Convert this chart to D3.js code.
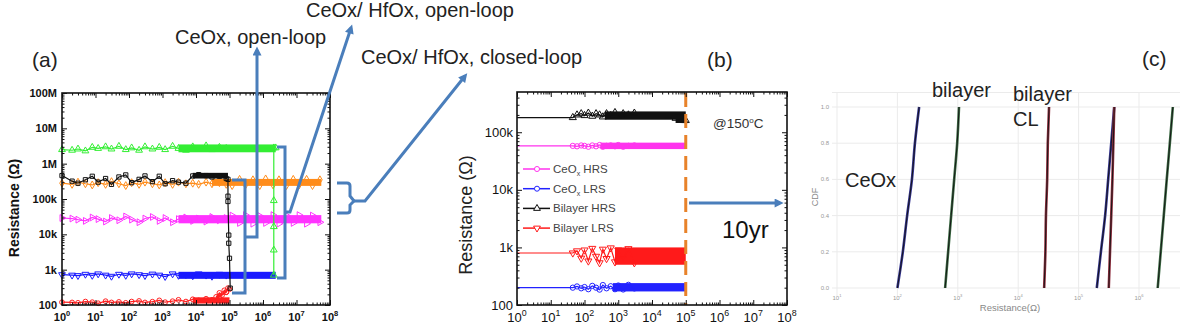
<!DOCTYPE html>
<html>
<head>
<meta charset="utf-8">
<script src="https://cdn.jsdelivr.net/npm/d3@7"></script>
<style>
  body { margin: 0; background: #fff; }
  text { font-family: "Liberation Sans", Arial, Helvetica, sans-serif; }
</style>
</head>
<body>
<svg id="svg1" width="1183" height="324"></svg>
<script>
const svg = d3.select('#svg1');
const BLUE = '#4a7ebb';

// ---------- (a) endurance data ----------
const aCycles = [1, 2, 3, 5, 8, 12, 20, 30, 50, 80, 120, 200, 300, 500, 800, 1200, 2000, 3000, 5000, 8000, 12000, 20000, 30000, 50000, 80000];
const aGreen = [2.5e6, 2.4e6, 2.6e6, 2.3e6, 2.9e6, 2.7e6, 3.0e6, 2.6e6, 3.1e6, 2.5e6, 2.8e6, 2.4e6, 3.0e6, 2.6e6, 2.9e6, 2.5e6, 3.1e6, 2.7e6, 2.4e6, 3.0e6, 2.6e6, 3.2e6, 2.5e6, 2.9e6, 2.7e6];
const aOrange = [2.8e5, 2.6e5, 3.0e5, 2.7e5, 2.5e5, 2.9e5, 2.6e5, 3.1e5, 2.7e5, 2.4e5, 2.9e5, 2.6e5, 3.0e5, 2.7e5, 2.5e5, 2.9e5, 2.6e5, 3.0e5, 2.7e5, 2.8e5, 2.6e5, 3.0e5, 2.7e5, 2.9e5, 2.6e5];
const aBlack = [4.6e5, 3.2e5, 2.8e5, 3.5e5, 4.4e5, 3.0e5, 3.8e5, 2.6e5, 4.2e5, 4.8e5, 2.9e5, 3.6e5, 4.5e5, 3.1e5, 4.4e5, 2.7e5, 3.3e5, 3.0e5, 2.8e5, 4.5e5, 4.9e5, 4.6e5, 4.2e5, 4.4e5, 3.8e5];
const aMagenta = [2.9e4, 2.8e4, 2.6e4, 2.4e4, 3.0e4, 2.7e4, 2.3e4, 2.9e4, 2.5e4, 3.2e4, 2.6e4, 2.2e4, 2.8e4, 3.1e4, 2.4e4, 2.9e4, 2.2e4, 2.7e4, 3.0e4, 2.4e4, 2.8e4, 2.3e4, 3.1e4, 2.5e4, 2.9e4];
const aBlue = [720, 700, 680, 740, 690, 760, 700, 650, 740, 690, 760, 720, 680, 750, 700, 640, 760, 690, 730, 670, 760, 700, 650, 740, 700];
const aRed = [120, 118, 115, 125, 120, 112, 128, 118, 122, 115, 125, 130, 118, 124, 135, 120, 128, 140, 125, 145, 135, 150, 140, 170, 230];
// late cycles, inside the dense bands
const aLateCycles = [1.2e5, 2e5, 3e5, 5e5, 8e5, 1.2e6, 2e6, 3e6, 5e6, 8e6, 1.2e7, 2e7, 3e7, 5e7];
const aOrangeLate = [2.4e5, 3.6e5, 2.5e5, 3.5e5, 2.4e5, 3.7e5, 2.5e5, 3.5e5, 2.4e5, 3.6e5, 2.5e5, 3.6e5, 2.4e5, 3.5e5];
const aMagentaLate = [3.4e4, 2.1e4, 3.5e4, 2.0e4, 3.3e4, 2.1e4, 3.5e4, 2.0e4, 3.4e4, 2.1e4, 3.5e4, 2.0e4, 3.4e4, 2.2e4];
// dense parts [from cycle, to cycle, low, high]
const aGreenBand = [3000, 2.4e6, 2.1e6, 3.5e6];
const aOrangeBand = [3e4, 5.5e7, 2.35e5, 3.7e5];
const aBlackBand = [8000, 9e4, 3.8e5, 5.5e5];
const aMagentaBand = [3000, 5.5e7, 2.05e4, 3.5e4];
const aBlueBand = [3000, 2.4e6, 550, 870];
const aRedBand = [8000, 1e5, 110, 165];
// failures / tails
const aGreenTail = [[2.4e6, 2.8e6], [2.1e6, 2.8e6], [2.1e6, 9e4], [2.1e6, 1.65e4], [2.1e6, 3.6e3], [2.1e6, 700]];
const aBlackTail = [[9e4, 3.6e5], [9e4, 1.2e5], [9e4, 8.5e4], [9.5e4, 9.5e3], [9.5e4, 5.6e3], [1e5, 2.1e3], [1.05e5, 300]];
const aRedTail = [[4e4, 170], [5e4, 220], [6e4, 190], [7e4, 260], [8e4, 230], [9e4, 300], [1e5, 280]];
const aYTicks = [1e2, 1e3, 1e4, 1e5, 1e6, 1e7, 1e8];
const aYLabels = ['100', '1k', '10k', '100k', '1M', '10M', '100M'];
const aXExps = [0, 1, 2, 3, 4, 5, 6, 7, 8];

// ---------- (b) retention data ----------
const bTime = [1, 45, 60, 80, 100, 130, 170, 220, 280, 350, 450, 600, 800, 1000, 1400, 2000, 3000];
const bBiHRS = [1.8e5, 1.8e5, 2.0e5, 2.1e5, 1.95e5, 2.15e5, 1.9e5, 2.1e5, 2.0e5, 1.85e5, 2.1e5, 1.95e5, 2.2e5, 1.9e5, 2.1e5, 2.0e5, 2.15e5];
const bCeHRS = [5.8e4, 5.8e4, 5.7e4, 5.9e4, 5.8e4, 5.6e4, 5.9e4, 5.7e4, 6.0e4, 5.6e4, 5.8e4, 5.9e4, 5.7e4, 6.0e4, 5.6e4, 5.8e4, 5.9e4];
const bBiLRS = [800, 800, 870, 650, 900, 580, 960, 700, 540, 930, 640, 980, 560, 900, 620, 950, 540];
const bCeLRS = [200, 200, 210, 195, 205, 188, 215, 200, 185, 222, 195, 212, 188, 218, 186, 224, 194];
const bBiHRSEnd = [[3e4, 1.9e5], [5e4, 1.75e5], [7e4, 1.65e5], [9e4, 1.6e5], [1e5, 1.6e5]];
const bBiHRSBands = [[400, 1e5, 1.65e5, 2.3e5], [5e4, 1e5, 1.45e5, 2.0e5]];
const bCeHRSBands = [[300, 1e5, 5.1e4, 6.6e4]];
const bBiLRSBands = [[800, 1e5, 500, 1000]];
const bCeLRSBands = [[700, 1e5, 172, 240]];
const bNames = ['CeOx HRS', 'CeOx LRS', 'Bilayer HRS', 'Bilayer LRS'];
const bYTicks = [1e2, 1e3, 1e4, 1e5];
const bYLabels = ['100', '1k', '10k', '100k'];
const bTenYears = 1e5;

// ---------- (c) CDF data ----------
const cCDF = [0, 0.2, 0.4, 0.6, 0.8, 1.0];
const cCeOxLRS = [100, 123, 145, 174, 195, 229];
const cBiLRS = [617, 692, 776, 871, 977, 1047];
const cClLRS = [26900, 28200, 28800, 30200, 30900, 32400];
const cCeOxHRS = [200000, 234000, 275000, 309000, 347000, 389000];
const cClHRS = [316000, 331000, 347000, 363000, 376000, 389000];
const cBiHRS = [2.04e6, 2.29e6, 2.57e6, 2.88e6, 3.24e6, 3.63e6];
const cYTicks = [0, 0.2, 0.4, 0.6, 0.8, 1.0];
const cYLabels = ['0.0', '0.2', '0.4', '0.6', '0.8', '1.0'];
const cXExps = [1, 2, 3, 4, 5, 6];

// ---------- helpers ----------
const zip = (xs, ys) => xs.map((v, i) => [v, ys[i]]);

function minorTicks([lo, hi]) {
  const out = [];
  for (let e = Math.floor(Math.log10(lo)); e < Math.ceil(Math.log10(hi)); e++)
    for (let m = 2; m < 10; m++) {
      const v = m * 10 ** e;
      if (v > lo && v < hi) out.push(v);
    }
  return out;
}

function drawFrame(g, x, y, xMaj, yMaj) {
  const [l, r] = x.range(), [b, t] = y.range();
  const xMin = minorTicks(x.domain()), yMin = minorTicks(y.domain());
  const sides = [
    [d3.axisBottom, x, `translate(0,${b})`, xMaj, xMin],
    [d3.axisTop, x, `translate(0,${t})`, xMaj, xMin],
    [d3.axisLeft, y, `translate(${l},0)`, yMaj, yMin],
    [d3.axisRight, y, `translate(${r},0)`, yMaj, yMin]
  ];
  sides.forEach(([ax, s, tr, maj, min]) => {
    [[maj, 5], [min, 2.5]].forEach(([vals, len]) => {
      g.append('g').attr('transform', tr)
        .call(ax(s).tickValues(vals).tickSize(-len).tickFormat(''))
        .call(a => a.select('.domain').remove())
        .selectAll('line').attr('stroke', '#111').attr('stroke-width', 1);
    });
  });
  g.append('rect').attr('x', l).attr('y', t).attr('width', r - l).attr('height', b - t)
    .attr('fill', 'none').attr('stroke', '#111').attr('stroke-width', 1.6);
}

function powLabels(g, x, exps, yPos, size, weight, color) {
  g.selectAll(null).data(exps).join('text')
    .attr('x', d => x(10 ** d)).attr('y', yPos).attr('text-anchor', 'middle')
    .attr('font-size', size).attr('font-weight', weight).attr('fill', color || '#111')
    .each(function (d) {
      const t = d3.select(this);
      t.append('tspan').text('10');
      t.append('tspan').attr('dy', -size * 0.45).attr('font-size', size * 0.68).text(d);
    });
}

function drawSeries(g, x, y, pts, color, sym, rot, size, skipFirst) {
  g.append('path').datum(pts)
    .attr('fill', 'none').attr('stroke', color).attr('stroke-width', 1.2)
    .attr('d', d3.line().x(d => x(d[0])).y(d => y(d[1])));
  drawMarks(g, x, y, skipFirst ? pts.slice(1) : pts, color, sym, rot, size);
}

function drawMarks(g, x, y, pts, color, sym, rot, size) {
  g.selectAll(null).data(pts).join('path')
    .attr('transform', d => `translate(${x(d[0])},${y(d[1])}) rotate(${rot})`)
    .attr('d', d3.symbol(sym, size))
    .attr('fill', 'none').attr('stroke', color).attr('stroke-width', 1);
}

function drawBands(g, x, y, bands, color) {
  g.selectAll(null).data(bands).join('rect')
    .attr('x', b => x(b[0])).attr('width', b => x(b[1]) - x(b[0]))
    .attr('y', b => y(b[3])).attr('height', b => y(b[2]) - y(b[3]))
    .attr('fill', color);
}

// arrowhead
svg.append('defs').append('marker')
  .attr('id', 'ah').attr('viewBox', '0 0 10 10').attr('refX', 6).attr('refY', 5)
  .attr('markerWidth', 3.4).attr('markerHeight', 3).attr('orient', 'auto')
  .append('path').attr('d', 'M0,0L10,5L0,10z').attr('fill', BLUE);

// ---------- panel (a) ----------
const xA = d3.scaleLog().domain([1, 1e8]).range([62, 330]);
const yA = d3.scaleLog().domain([1e2, 1e8]).range([305, 93]);
const ga = svg.append('g');

drawBands(ga, xA, yA, [aOrangeBand], '#ff8c1a');
drawSeries(ga, xA, yA, zip(aCycles, aOrange), '#ff8c1a', d3.symbolDiamond, 0, 18);
drawMarks(ga, xA, yA, zip(aLateCycles, aOrangeLate), '#ff8c1a', d3.symbolDiamond, 0, 18);
drawBands(ga, xA, yA, [aMagentaBand], '#ff33ff');
drawSeries(ga, xA, yA, zip(aCycles, aMagenta), '#ff33ff', d3.symbolTriangle, 90, 20);
drawMarks(ga, xA, yA, zip(aLateCycles, aMagentaLate), '#ff33ff', d3.symbolTriangle, 90, 20);
drawBands(ga, xA, yA, [aBlueBand], '#1a1aff');
drawSeries(ga, xA, yA, zip(aCycles, aBlue), '#1a1aff', d3.symbolTriangle, 180, 20);
drawBands(ga, xA, yA, [aGreenBand], '#33ee33');
drawSeries(ga, xA, yA, zip(aCycles, aGreen).concat(aGreenTail), '#33ee33', d3.symbolTriangle, 0, 20);
drawBands(ga, xA, yA, [aRedBand], '#ff2020');
drawSeries(ga, xA, yA, zip(aCycles, aRed).concat(aRedTail), '#ff2020', d3.symbolCircle, 0, 18);
drawBands(ga, xA, yA, [aBlackBand], '#111');
drawSeries(ga, xA, yA, zip(aCycles, aBlack).concat(aBlackTail), '#111', d3.symbolSquare, 0, 18);

drawFrame(ga, xA, yA, aXExps.map(e => 10 ** e), aYTicks);

ga.selectAll(null).data(aYTicks).join('text')
  .attr('x', 57).attr('y', d => yA(d) + 4).attr('text-anchor', 'end')
  .attr('font-size', 11).attr('font-weight', 'bold').attr('fill', '#111')
  .text((d, i) => aYLabels[i]);
powLabels(ga, xA, aXExps, 321, 11, 'bold');
ga.append('text').attr('transform', 'translate(19,208) rotate(-90)')
  .attr('text-anchor', 'middle').attr('font-size', 14).attr('font-weight', 'bold').attr('fill', '#111')
  .text('Resistance (Ω)');

// ---------- panel (b) ----------
const xB = d3.scaleLog().domain([1, 1e8]).range([517, 787]);
const yB = d3.scaleLog().domain([1e2, 5e5]).range([305, 92]);
const gb = svg.append('g');

const bSeries = [
  [bBiHRS, bBiHRSBands, '#111', d3.symbolTriangle, 0],
  [bCeHRS, bCeHRSBands, '#ff33ee', d3.symbolCircle, 0],
  [bBiLRS, bBiLRSBands, '#ff1a1a', d3.symbolTriangle, 180],
  [bCeLRS, bCeLRSBands, '#2222ff', d3.symbolCircle, 0]
];
bSeries.forEach(([vals, bands, color, sym, rot]) => {
  drawBands(gb, xB, yB, bands, color);
  drawSeries(gb, xB, yB, zip(bTime, vals), color, sym, rot, 22, true);
});
drawMarks(gb, xB, yB, bBiHRSEnd, '#111', d3.symbolTriangle, 0, 22);

gb.append('line')
  .attr('x1', xB(bTenYears)).attr('x2', xB(bTenYears)).attr('y1', 93).attr('y2', 305)
  .attr('stroke', '#e8822a').attr('stroke-width', 3).attr('stroke-dasharray', '14,7');

drawFrame(gb, xB, yB, aXExps.map(e => 10 ** e), bYTicks);
gb.selectAll(null).data(bYTicks).join('text')
  .attr('x', 513).attr('y', d => yB(d) + 4.5).attr('text-anchor', 'end')
  .attr('font-size', 13).attr('fill', '#111')
  .text((d, i) => bYLabels[i]);
powLabels(gb, xB, aXExps, 322, 13, 'normal');
gb.append('text').attr('transform', 'translate(472,215) rotate(-90)')
  .attr('text-anchor', 'middle').attr('font-size', 18).attr('fill', '#222')
  .text('Resistance (Ω)');

// legend
const legColors = ['#ff33ee', '#2222ff', '#111', '#ff1a1a'];
const legSyms = [[d3.symbolCircle, 0], [d3.symbolCircle, 0], [d3.symbolTriangle, 0], [d3.symbolTriangle, 180]];
const leg = gb.selectAll(null).data(bNames).join('g')
  .attr('transform', (d, i) => `translate(523,${169 + i * 19.7})`);
leg.append('line').attr('x1', 0).attr('x2', 27).attr('stroke', (d, i) => legColors[i]).attr('stroke-width', 1.5);
leg.append('path').attr('transform', (d, i) => `translate(14,0) rotate(${legSyms[i][1]})`)
  .attr('d', (d, i) => d3.symbol(legSyms[i][0], 20)())
  .attr('fill', '#fff').attr('stroke', (d, i) => legColors[i]);
leg.append('text').attr('x', 30).attr('y', 4).attr('font-size', 11.5).attr('fill', '#444')
  .each(function (d) {
    const t = d3.select(this);
    if (d.startsWith('CeOx')) {
      t.append('tspan').text('CeO');
      t.append('tspan').attr('dy', 3).attr('font-size', 7).text('x');
      t.append('tspan').attr('dy', -3).text(d.slice(4));
    } else t.text(d);
  });

gb.append('text').attr('x', 713).attr('y', 128).attr('font-size', 13.5).attr('fill', '#333')
  .call(t => {
    t.append('tspan').text('@150');
    t.append('tspan').attr('dy', -5).attr('font-size', 8).text('o');
    t.append('tspan').attr('dy', 5).text('C');
  });
gb.append('line').attr('x1', 689).attr('x2', 780).attr('y1', 203).attr('y2', 203)
  .attr('stroke', BLUE).attr('stroke-width', 3).attr('marker-end', 'url(#ah)');
gb.append('text').attr('x', 722).attr('y', 238).attr('font-size', 24).attr('fill', '#111').text('10yr');

// ---------- panel (c) ----------
const xC = d3.scaleLog().domain([10, 1e6]).range([837, 1139]);
const yC = d3.scaleLinear().domain([0, 1]).range([288, 107]);
const gc = svg.append('g');
const cLeft = 832, cRight = 1180, cTop = 92, cBottom = 296;

gc.selectAll(null).data(cYTicks.concat([1.08])).join('line')
  .attr('x1', cLeft).attr('x2', cRight).attr('y1', d => yC(d)).attr('y2', d => yC(d))
  .attr('stroke', '#ebebeb').attr('stroke-width', 1);
gc.selectAll(null).data(cXExps).join('line')
  .attr('x1', d => xC(10 ** d)).attr('x2', d => xC(10 ** d)).attr('y1', cTop).attr('y2', cBottom)
  .attr('stroke', '#ebebeb').attr('stroke-width', 1);

const cCurves = [
  [cCeOxLRS, '#34348f'], [cBiLRS, '#3d6b45'], [cClLRS, '#8e2e3e'],
  [cCeOxHRS, '#34348f'], [cClHRS, '#8e2e3e'], [cBiHRS, '#3d6b45']
];
const cLine = d3.line().x(d => xC(d[0])).y(d => yC(d[1])).curve(d3.curveMonotoneY);
cCurves.forEach(([vals, color]) => {
  const pts = zip(vals, cCDF);
  gc.append('path').datum(pts).attr('d', cLine).attr('fill', 'none')
    .attr('stroke', color).attr('stroke-width', 2.6);
  gc.append('path').datum(pts).attr('d', cLine).attr('fill', 'none')
    .attr('stroke', '#111').attr('stroke-width', 0.9);
});

gc.selectAll(null).data(cYTicks).join('text')
  .attr('x', 829).attr('y', d => yC(d) + 2).attr('text-anchor', 'end')
  .attr('font-size', 6).attr('fill', '#999').text((d, i) => cYLabels[i]);
powLabels(gc, xC, cXExps, 300, 6, 'normal', '#999');
gc.append('text').attr('transform', 'translate(818,197) rotate(-90)')
  .attr('text-anchor', 'middle').attr('font-size', 9).attr('fill', '#888').text('CDF');
gc.append('text').attr('x', 1010).attr('y', 311).attr('text-anchor', 'middle')
  .attr('font-size', 9.5).attr('fill', '#888').text('Resistance(Ω)');

// ---------- annotations (on top) ----------
const ann = svg.append('g').attr('fill', 'none').attr('stroke', BLUE).attr('stroke-width', 3)
  .attr('stroke-linejoin', 'miter');
ann.append('path').attr('d', 'M232,180H245V293H232');
ann.append('path').attr('d', 'M245,237H257V50').attr('marker-end', 'url(#ah)');
ann.append('path').attr('d', 'M277,147H285V278H277');
ann.append('path').attr('d', 'M285,212H290L351,28').attr('marker-end', 'url(#ah)');
ann.append('path').attr('d', 'M337,183H347Q350,183 350,186V196L354,201L350,205V210Q350,213 347,213H337');
ann.append('path').attr('d', 'M354,201H365L465,76').attr('marker-end', 'url(#ah)');

const labels = [
  ['(a)', 32, 67, 21], ['(b)', 707, 67, 21], ['(c)', 1142, 66, 21],
  ['CeOx, open-loop', 175, 44, 20], ['CeOx/ HfOx, open-loop', 306, 17, 20],
  ['CeOx/ HfOx, closed-loop', 361, 64, 20],
  ['bilayer', 932, 97, 20], ['bilayer', 1013, 101, 20], ['CL', 1013, 126, 20], ['CeOx', 845, 187, 20]
];
svg.append('g').selectAll('text').data(labels).join('text')
  .attr('x', d => d[1]).attr('y', d => d[2]).attr('font-size', d => d[3]).attr('fill', '#222')
  .text(d => d[0]);
</script>
</body>
</html>
